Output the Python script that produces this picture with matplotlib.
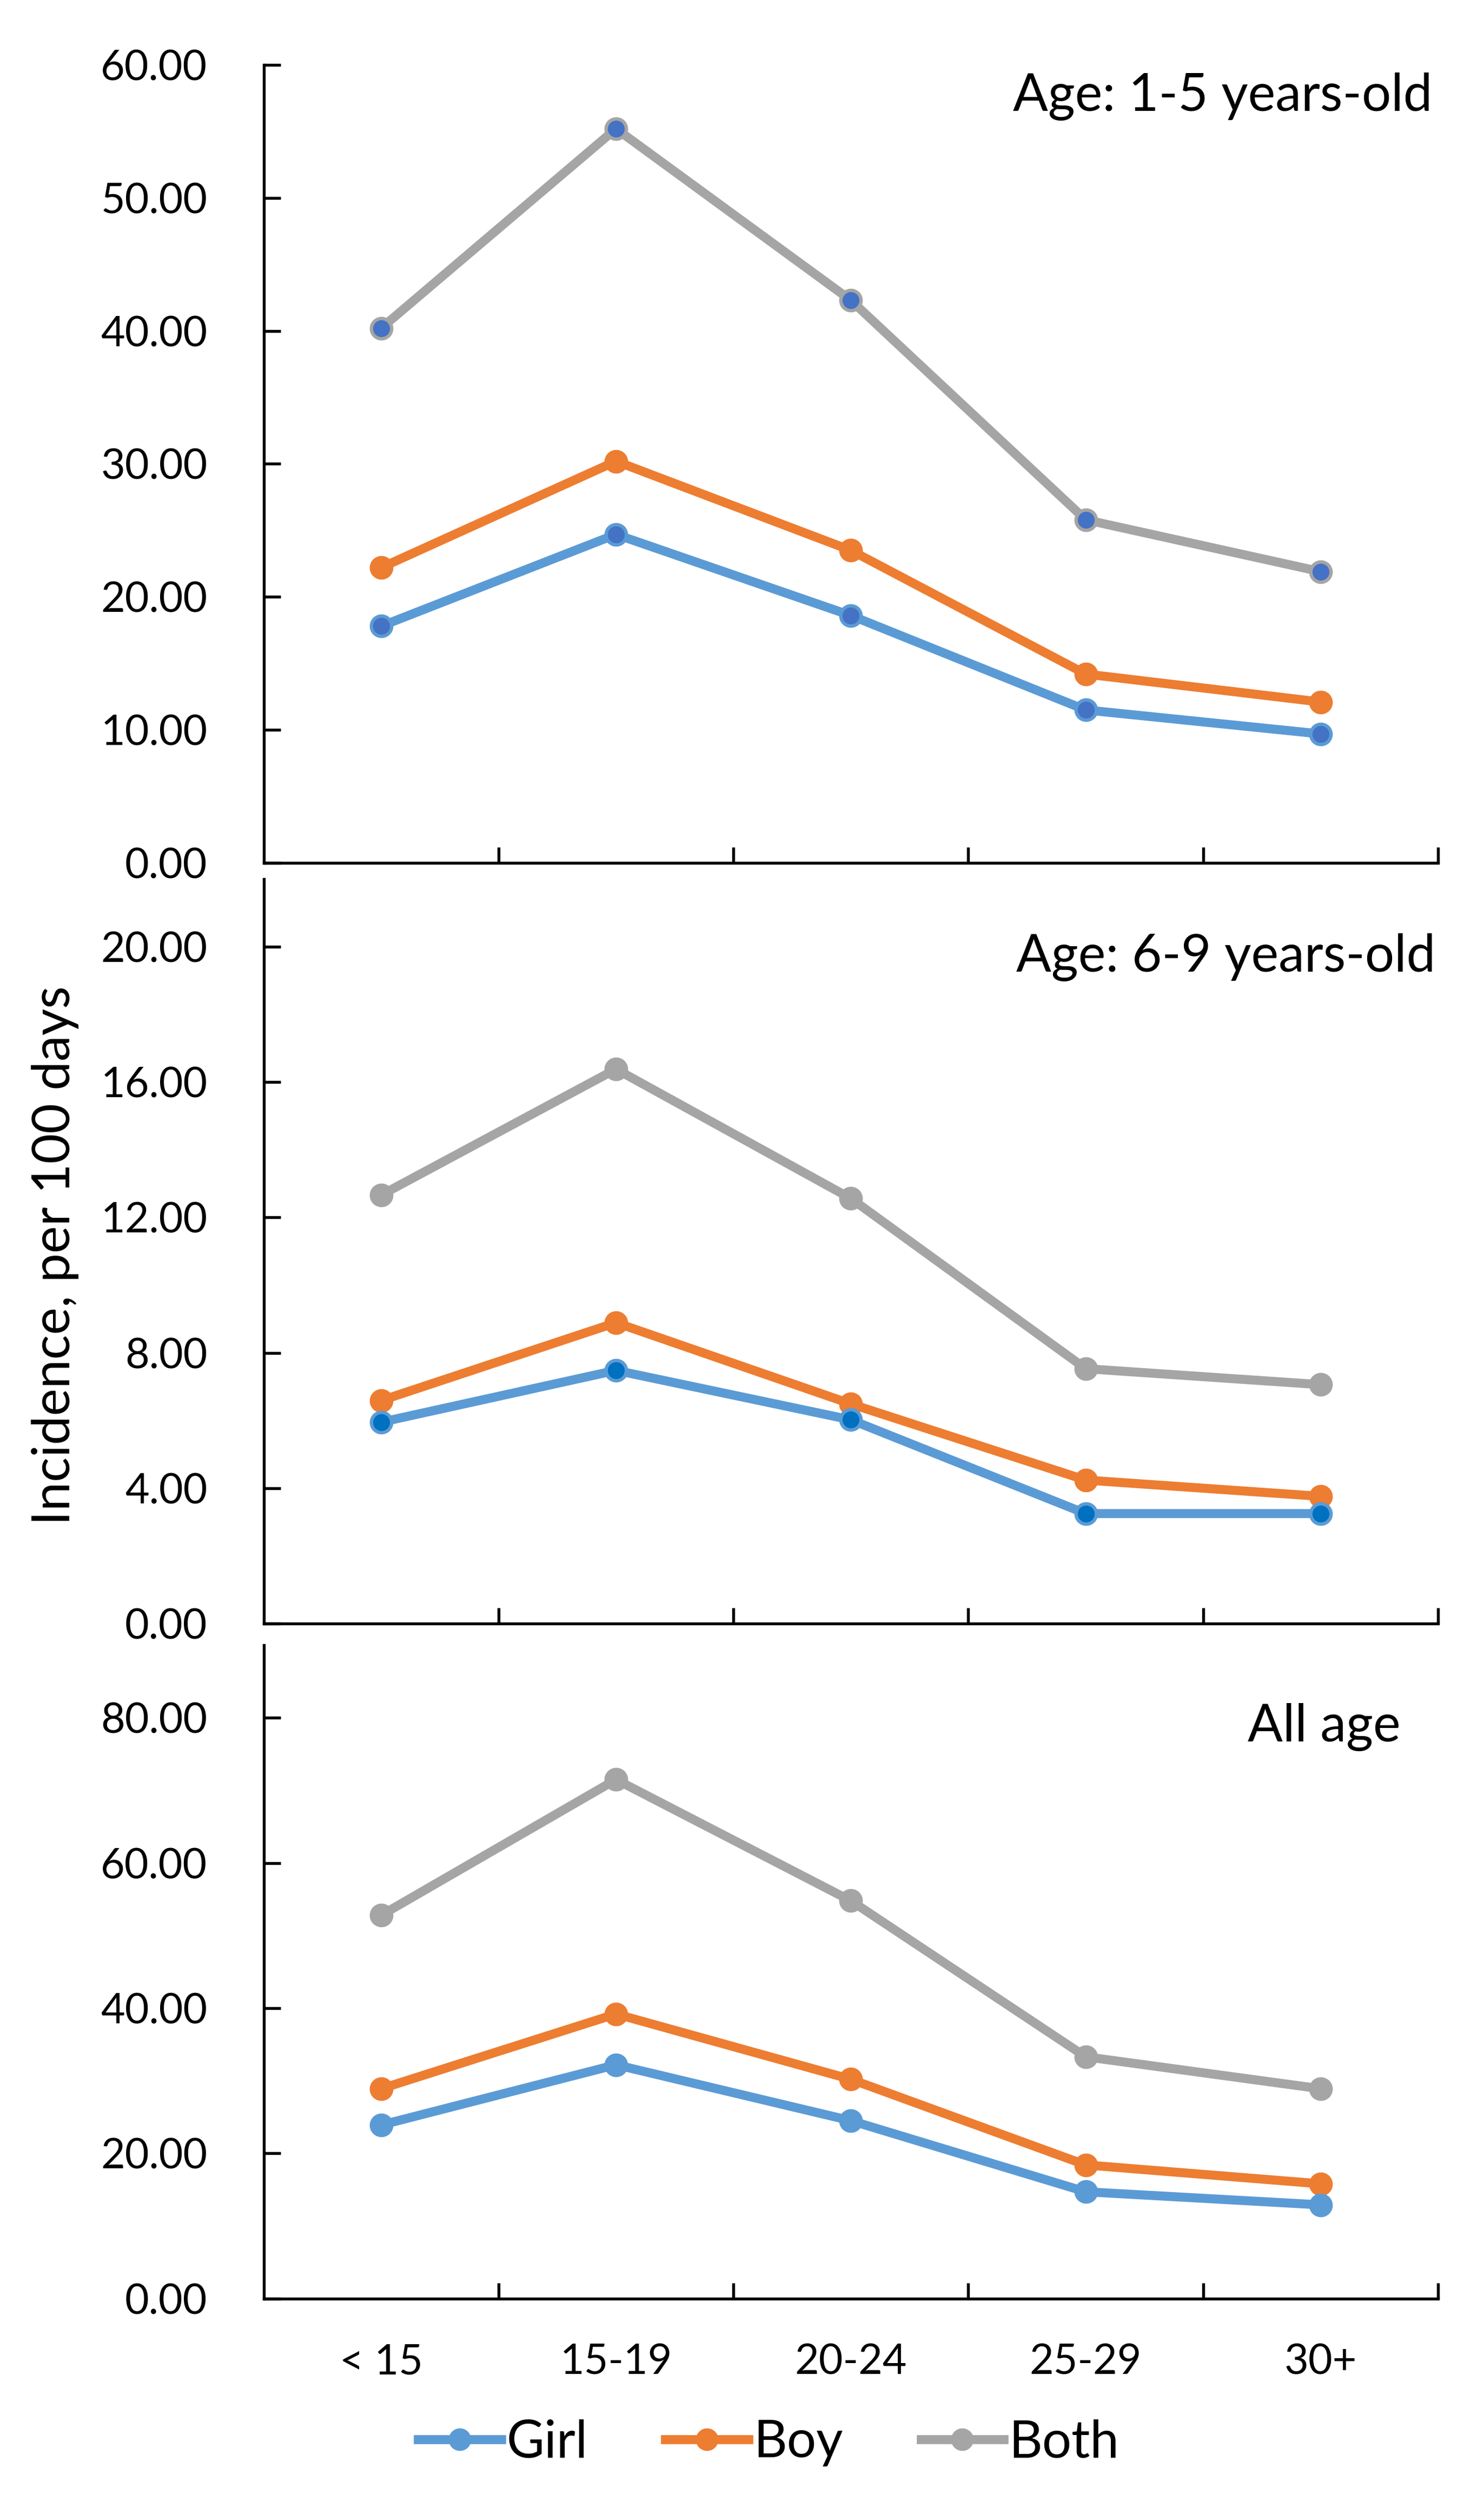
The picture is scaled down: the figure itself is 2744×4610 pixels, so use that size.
import matplotlib
matplotlib.use("Agg")
import matplotlib.pyplot as plt
from matplotlib.lines import Line2D

plt.rcParams['font.family'] = ['Lato', 'DejaVu Sans']

categories = ["< 15", "15-19", "20-24", "25-29", "30+"]

girl_1_5 = [17.8, 24.7, 18.6, 11.5, 9.7]
boy_1_5 = [22.2, 30.2, 23.5, 14.2, 12.1]
both_1_5 = [40.2, 55.2, 42.3, 25.8, 21.9]

girl_6_9 = [5.95, 7.48, 6.02, 3.25, 3.25]
boy_6_9 = [6.59, 8.89, 6.49, 4.24, 3.76]
both_6_9 = [12.66, 16.38, 12.56, 7.53, 7.06]

girl_all = [23.9, 32.2, 24.5, 14.7, 12.9]
boy_all = [28.9, 39.2, 30.2, 18.4, 15.8]
both_all = [52.8, 71.5, 54.8, 33.3, 28.9]

panel_titles = ["Age: 1-5 years-old", "Age: 6-9 years-old", "All age"]
y_ticks = [[0, 10, 20, 30, 40, 50, 60], [0, 4, 8, 12, 16, 20], [0, 20, 40, 60, 80]]
y_max = [60, 22, 90]

BLUE = "#5B9BD5"
ORANGE = "#ED7D31"
GRAY = "#A5A5A5"
DARKBLUE = "#4472C4"
MIDBLUE = "#0070C0"

fig = plt.figure(figsize=(2744 / 300, 4610 / 300), dpi=300)

left, right = 0.1777, 0.969
boxes = [(0.654, 0.974), (0.349, 0.6476), (0.0784, 0.3403)]

data = [(girl_1_5, boy_1_5, both_1_5), (girl_6_9, boy_6_9, both_6_9), (girl_all, boy_all, both_all)]
girl_face = [DARKBLUE, MIDBLUE, BLUE]
both_face = [DARKBLUE, GRAY, GRAY]
title_x = [0.995, 0.998, 0.968]
title_y = [0.96, 0.895, 0.875]

lw = 4.0
ms = 9
x = list(range(len(categories)))

for i, (b, t) in enumerate(boxes):
    ax = fig.add_axes([left, b, right - left, t - b])
    g, bo, bt = data[i]
    ax.plot(x, bt, color=GRAY, lw=lw, marker='o', ms=ms, mfc=both_face[i], mec=GRAY, mew=1.5, zorder=3)
    ax.plot(x, bo, color=ORANGE, lw=lw, marker='o', ms=ms, mfc=ORANGE, mec=ORANGE, mew=1.5, zorder=3)
    ax.plot(x, g, color=BLUE, lw=lw, marker='o', ms=ms, mfc=girl_face[i], mec=BLUE, mew=1.5, zorder=3)
    ax.set_xlim(-0.5, 4.5)
    ax.set_ylim(0, y_max[i])
    ax.set_yticks(y_ticks[i])
    ax.set_yticklabels([f"{v:.2f}" for v in y_ticks[i]])
    ax.set_xticks([0.5, 1.5, 2.5, 3.5, 4.5])
    ax.set_xticklabels([])
    ax.set_xticks(x, minor=True)
    if i == 2:
        ax.set_xticklabels(categories, minor=True)
    else:
        ax.set_xticklabels([], minor=True)
    ax.tick_params(axis='x', which='minor', length=0, pad=20, labelsize=18.5)
    ax.tick_params(axis='x', which='major', direction='in', length=7, width=1.3)
    ax.tick_params(axis='y', direction='in', length=7.5, width=1.3, pad=25, labelsize=18.5)
    for s in ['top', 'right']:
        ax.spines[s].set_visible(False)
    for s in ['left', 'bottom']:
        ax.spines[s].set_linewidth(1.3)
        ax.spines[s].set_color('black')
    ax.text(title_x[i], title_y[i], panel_titles[i], transform=ax.transAxes,
            ha='right', va='center', fontsize=23)

fig.text(0.037, 0.4965, "Incidence, per 100 days", rotation=90, ha='center', va='center', fontsize=23)

handles = [
    Line2D([], [], color=BLUE, lw=lw, marker='o', ms=ms, mfc=BLUE, mec=BLUE),
    Line2D([], [], color=ORANGE, lw=lw, marker='o', ms=ms, mfc=ORANGE, mec=ORANGE),
    Line2D([], [], color=GRAY, lw=lw, marker='o', ms=ms, mfc=GRAY, mec=GRAY),
]
fig.legend(handles, ["Girl", "Boy", "Both"], loc='center', bbox_to_anchor=(0.518, 0.0205),
           ncol=3, frameon=False, fontsize=23, handlelength=1.6, handletextpad=0.1,
           columnspacing=1.5)

fig.savefig("out.png", dpi=300)
